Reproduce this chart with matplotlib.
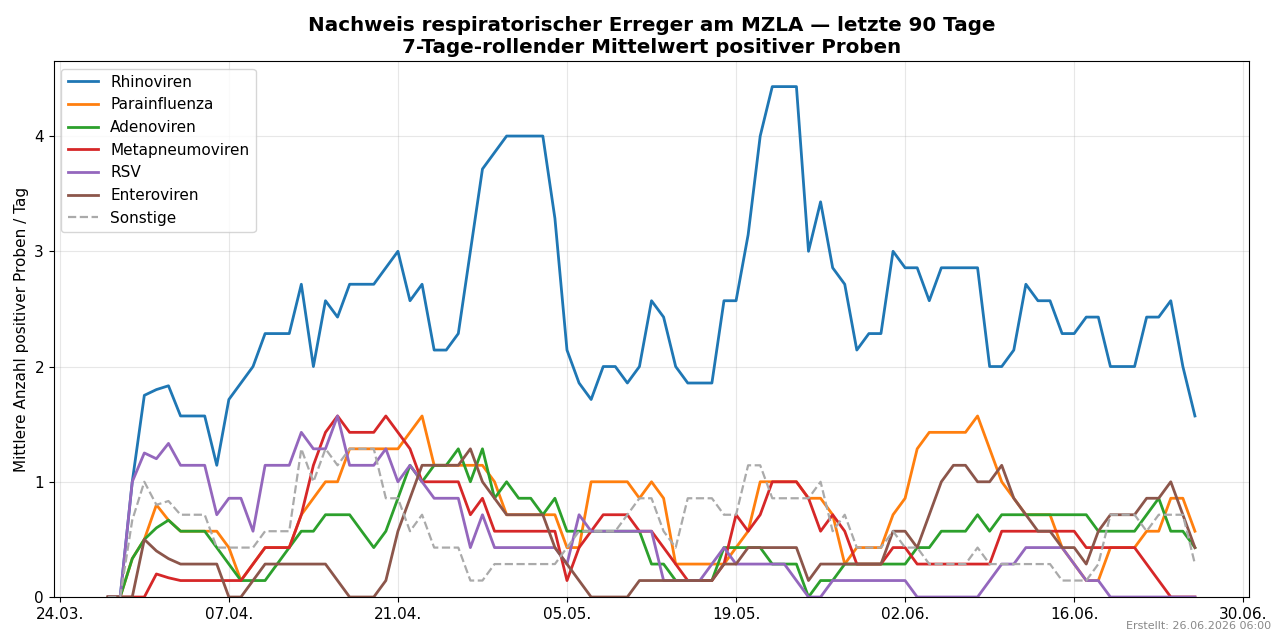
import pandas as pd
import matplotlib.pyplot as plt
import matplotlib.dates as mdates

# 7-Tage-Mittel, 28.03.2026 - 26.06.2026 (91 Tage)
dates = pd.date_range('2026-03-28', periods=91, freq='D')

rhinoviren = [0, 0, 1.0, 1.75, 1.8, 1.833, 1.571, 1.571, 1.571, 1.143,
              1.714, 1.857, 2.0, 2.286, 2.286, 2.286, 2.714, 2.0, 2.571, 2.429,
              2.714, 2.714, 2.714, 2.857, 3.0, 2.571, 2.714, 2.143, 2.143, 2.286,
              3.0, 3.714, 3.857, 4.0, 4.0, 4.0, 4.0, 3.286, 2.143, 1.857,
              1.714, 2.0, 2.0, 1.857, 2.0, 2.571, 2.429, 2.0, 1.857, 1.857,
              1.857, 2.571, 2.571, 3.143, 4.0, 4.429, 4.429, 4.429, 3.0, 3.429,
              2.857, 2.714, 2.143, 2.286, 2.286, 3.0, 2.857, 2.857, 2.571, 2.857,
              2.857, 2.857, 2.857, 2.0, 2.0, 2.143, 2.714, 2.571, 2.571, 2.286,
              2.286, 2.429, 2.429, 2.0, 2.0, 2.0, 2.429, 2.429, 2.571, 2.0,
              1.571]
parainfluenza = [0, 0, 0.333, 0.5, 0.8, 0.667, 0.571, 0.571, 0.571, 0.571,
                 0.429, 0.143, 0.286, 0.429, 0.429, 0.429, 0.714, 0.857, 1.0, 1.0,
                 1.286, 1.286, 1.286, 1.286, 1.286, 1.429, 1.571, 1.143, 1.143, 1.143,
                 1.143, 1.143, 1.0, 0.714, 0.714, 0.714, 0.714, 0.714, 0.429, 0.429,
                 1.0, 1.0, 1.0, 1.0, 0.857, 1.0, 0.857, 0.286, 0.286, 0.286,
                 0.286, 0.286, 0.429, 0.571, 1.0, 1.0, 1.0, 1.0, 0.857, 0.857,
                 0.714, 0.286, 0.429, 0.429, 0.429, 0.714, 0.857, 1.286, 1.429, 1.429,
                 1.429, 1.429, 1.571, 1.286, 1.0, 0.857, 0.714, 0.714, 0.714, 0.429,
                 0.286, 0.143, 0.143, 0.429, 0.429, 0.429, 0.571, 0.571, 0.857, 0.857,
                 0.571]
adenoviren = [0, 0, 0.333, 0.5, 0.6, 0.667, 0.571, 0.571, 0.571, 0.429,
              0.286, 0.143, 0.143, 0.143, 0.286, 0.429, 0.571, 0.571, 0.714, 0.714,
              0.714, 0.571, 0.429, 0.571, 0.857, 1.143, 1.0, 1.143, 1.143, 1.286,
              1.0, 1.286, 0.857, 1.0, 0.857, 0.857, 0.714, 0.857, 0.571, 0.571,
              0.571, 0.571, 0.571, 0.571, 0.571, 0.286, 0.286, 0.143, 0.143, 0.143,
              0.143, 0.429, 0.429, 0.429, 0.429, 0.286, 0.286, 0.286, 0, 0.143,
              0.143, 0.286, 0.286, 0.286, 0.286, 0.286, 0.286, 0.429, 0.429, 0.571,
              0.571, 0.571, 0.714, 0.571, 0.714, 0.714, 0.714, 0.714, 0.714, 0.714,
              0.714, 0.714, 0.571, 0.571, 0.571, 0.571, 0.714, 0.857, 0.571, 0.571,
              0.429]
metapneumoviren = [0, 0, 0, 0, 0.2, 0.167, 0.143, 0.143, 0.143, 0.143,
                   0.143, 0.143, 0.286, 0.429, 0.429, 0.429, 0.714, 1.143, 1.429, 1.571,
                   1.429, 1.429, 1.429, 1.571, 1.429, 1.286, 1.0, 1.0, 1.0, 1.0,
                   0.714, 0.857, 0.571, 0.571, 0.571, 0.571, 0.571, 0.571, 0.143, 0.429,
                   0.571, 0.714, 0.714, 0.714, 0.571, 0.571, 0.429, 0.286, 0.143, 0.143,
                   0.143, 0.286, 0.714, 0.571, 0.714, 1.0, 1.0, 1.0, 0.857, 0.571,
                   0.714, 0.571, 0.286, 0.286, 0.286, 0.429, 0.429, 0.286, 0.286, 0.286,
                   0.286, 0.286, 0.286, 0.286, 0.571, 0.571, 0.571, 0.571, 0.571, 0.571,
                   0.571, 0.429, 0.429, 0.429, 0.429, 0.429, 0.286, 0.143, 0, 0,
                   0]
rsv = [0, 0, 1.0, 1.25, 1.2, 1.333, 1.143, 1.143, 1.143, 0.714,
       0.857, 0.857, 0.571, 1.143, 1.143, 1.143, 1.429, 1.286, 1.286, 1.571,
       1.143, 1.143, 1.143, 1.286, 1.0, 1.143, 1.0, 0.857, 0.857, 0.857,
       0.429, 0.714, 0.429, 0.429, 0.429, 0.429, 0.429, 0.429, 0.286, 0.714,
       0.571, 0.571, 0.571, 0.571, 0.571, 0.571, 0.143, 0.143, 0.143, 0.143,
       0.286, 0.429, 0.286, 0.286, 0.286, 0.286, 0.286, 0.143, 0, 0,
       0.143, 0.143, 0.143, 0.143, 0.143, 0.143, 0.143, 0, 0, 0,
       0, 0, 0, 0.143, 0.286, 0.286, 0.429, 0.429, 0.429, 0.429,
       0.286, 0.143, 0.143, 0, 0, 0, 0, 0, 0, 0,
       0]
enteroviren = [0, 0, 0, 0.5, 0.4, 0.333, 0.286, 0.286, 0.286, 0.286,
               0, 0, 0.143, 0.286, 0.286, 0.286, 0.286, 0.286, 0.286, 0.143,
               0, 0, 0, 0.143, 0.571, 0.857, 1.143, 1.143, 1.143, 1.143,
               1.286, 1.0, 0.857, 0.714, 0.714, 0.714, 0.714, 0.429, 0.286, 0.143,
               0, 0, 0, 0, 0.143, 0.143, 0.143, 0.143, 0.143, 0.143,
               0.143, 0.286, 0.286, 0.429, 0.429, 0.429, 0.429, 0.429, 0.143, 0.286,
               0.286, 0.286, 0.286, 0.286, 0.286, 0.571, 0.571, 0.429, 0.714, 1.0,
               1.143, 1.143, 1.0, 1.0, 1.143, 0.857, 0.714, 0.571, 0.571, 0.429,
               0.429, 0.286, 0.571, 0.714, 0.714, 0.714, 0.857, 0.857, 1.0, 0.714,
               0.429]
sonstige = [0, 0, 0.667, 1.0, 0.8, 0.833, 0.714, 0.714, 0.714, 0.429,
            0.429, 0.429, 0.429, 0.571, 0.571, 0.571, 1.286, 1.0, 1.286, 1.143,
            1.286, 1.286, 1.286, 0.857, 0.857, 0.571, 0.714, 0.429, 0.429, 0.429,
            0.143, 0.143, 0.286, 0.286, 0.286, 0.286, 0.286, 0.286, 0.429, 0.571,
            0.571, 0.571, 0.571, 0.714, 0.857, 0.857, 0.571, 0.429, 0.857, 0.857,
            0.857, 0.714, 0.714, 1.143, 1.143, 0.857, 0.857, 0.857, 0.857, 1.0,
            0.571, 0.714, 0.429, 0.429, 0.429, 0.571, 0.429, 0.429, 0.286, 0.286,
            0.286, 0.286, 0.429, 0.286, 0.286, 0.286, 0.286, 0.286, 0.286, 0.143,
            0.143, 0.143, 0.286, 0.714, 0.714, 0.714, 0.571, 0.714, 0.714, 0.714,
            0.286]

series = [
    ('Rhinoviren', rhinoviren, '#1f77b4', '-'),
    ('Parainfluenza', parainfluenza, '#ff7f0e', '-'),
    ('Adenoviren', adenoviren, '#2ca02c', '-'),
    ('Metapneumoviren', metapneumoviren, '#d62728', '-'),
    ('RSV', rsv, '#9467bd', '-'),
    ('Enteroviren', enteroviren, '#8c564b', '-'),
]

fig, ax = plt.subplots(figsize=(12.8, 6.43), dpi=100)
fig.subplots_adjust(left=0.042, right=0.976, top=0.905, bottom=0.0715)

for name, vals, col, ls in series:
    ax.plot(dates, vals, color=col, linestyle=ls, linewidth=2.0, label=name)
ax.plot(dates, sonstige, color='#aaaaaa', linestyle='--', linewidth=1.6, label='Sonstige')

ax.set_ylim(bottom=0)
ax.set_xticks(pd.date_range('2026-03-24', '2026-06-30', freq='14D'))
ax.xaxis.set_major_formatter(mdates.DateFormatter('%d.%m.'))
ax.tick_params(labelsize=11)
ax.grid(True, alpha=0.3)
ax.set_ylabel('Mittlere Anzahl positiver Proben / Tag', fontsize=11)
ax.set_title('Nachweis respiratorischer Erreger am MZLA \u2014 letzte 90 Tage\n'
             '7-Tage-rollender Mittelwert positiver Proben',
             fontsize=14.3, fontweight='bold')
ax.legend(loc='upper left', fontsize=11)

fig.text(0.993, 0.018, 'Erstellt: 26.06.2026 06:00', ha='right', va='bottom',
         fontsize=8, color='#888888')

plt.savefig('out.png', dpi=100)
